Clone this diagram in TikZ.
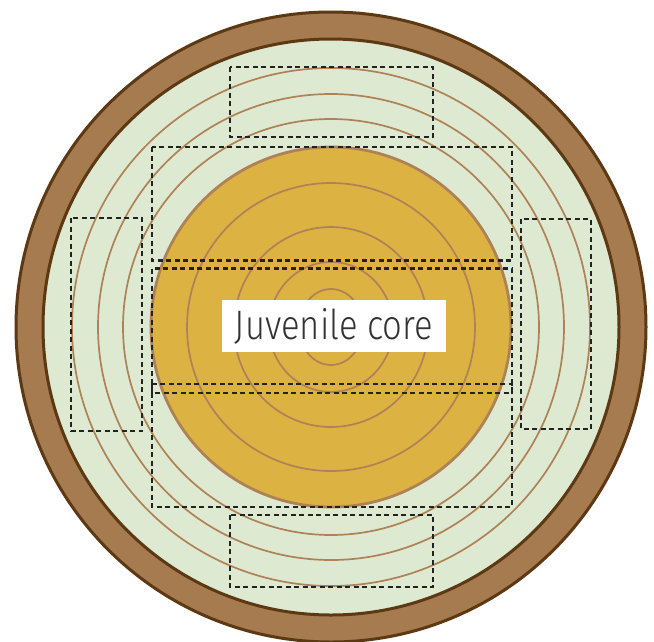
\documentclass[tikz,border=0pt]{standalone}
\usepackage{fontspec}
\setmainfont{Open Sans}
\newfontfamily\lightfont{Fira Sans Light}
\definecolor{bark}{HTML}{A67B50}
\definecolor{barkline}{HTML}{5C3813}
\definecolor{sap}{HTML}{DDEAD1}
\definecolor{corefill}{HTML}{DCB242}
\definecolor{ringcol}{HTML}{AE8256}
\definecolor{labelcol}{HTML}{333333}
\definecolor{dashcol}{HTML}{222222}
\begin{document}
\begin{tikzpicture}[x=1pt,y=-1pt,
  ringline/.style={draw=ringcol,line width=1.7pt},
  samplebox/.style={draw=dashcol,line width=2.2pt,dash pattern=on 5pt off 3.5pt},
  labelbox/.style={fill=white,inner sep=0pt,minimum width=224pt,minimum height=52pt,text=labelcol}]
\useasboundingbox (0,0) rectangle (654,641);
\fill[white] (0,0) rectangle (654,641);
\coordinate (c) at (331,327);
% bark
\filldraw[fill=bark,draw=barkline,line width=3pt] (c) circle (315pt);
% sapwood
\filldraw[fill=sap,draw=barkline,line width=3pt] (c) circle (288pt);
% growth rings in sapwood
\foreach \r in {208,233,259} \draw[ringline] (c) circle (\r pt);
% juvenile core
\filldraw[fill=corefill,draw=ringcol,line width=2.8pt] (c) circle (180pt);
\draw[ringline] (c) circle (144pt);
\draw[ringline] (c) ellipse [x radius=97pt,y radius=100pt];
\draw[ringline] (c) ellipse [x radius=62pt,y radius=65pt];
\draw[ringline] (c) ellipse [x radius=32pt,y radius=38pt];
% sample boxes
\draw[samplebox] (230,67) rectangle (433,137);
\draw[samplebox] (230,515) rectangle (433,587);
\draw[samplebox] (71,218) rectangle (142,431);
\draw[samplebox] (521,219) rectangle (591,429);
\draw[samplebox] (152,147) rectangle (512,260.5);
\draw[samplebox] (152,268.5) rectangle (512,392.7);
\draw[samplebox] (152,384) rectangle (512,506.7);
% label
\node[labelbox] (core) at (334,326) {\resizebox{198pt}{31pt}{\lightfont Juvenile core}};
\end{tikzpicture}
\end{document}
